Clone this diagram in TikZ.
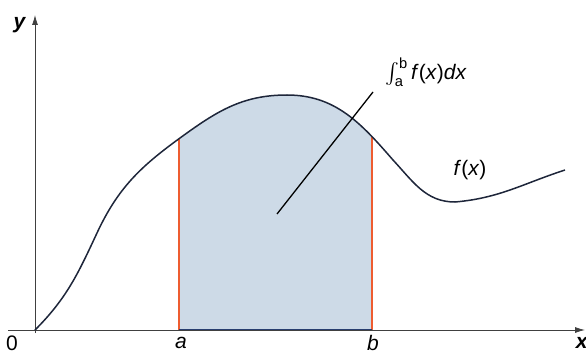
\documentclass[tikz,border=0pt]{standalone}
\usepackage{amsmath}
\usepackage{fontspec}
\setmainfont{Liberation Sans}
\usetikzlibrary{arrows.meta}

\definecolor{curvecol}{RGB}{30,38,58}
\definecolor{areacol}{RGB}{205,218,231}
\definecolor{edgecol}{RGB}{238,92,48}
\definecolor{basecol}{RGB}{40,62,112}

\begin{document}
\begin{tikzpicture}[x=1pt,y=1pt,font=\fontsize{21}{24}\selectfont,
  axis/.style={line width=0.8pt, draw=black!75, -{Latex[length=10pt,width=6pt]}},
  edge/.style={line width=1.3pt, draw=edgecol},
  leader/.style={line width=1.3pt, draw=black}]
  \useasboundingbox (-35,-24) rectangle (551,330);
  \def\fcurve{(0,0) to[out=45,in=245] (62,97) to[out=65,in=216] (145,192)
    to[out=36,in=180] (252,235) to[out=0,in=131] (358,170)
    to[out=-47,in=180] (420,128) to[out=5,in=198] (530,160)}

  % Points
  \coordinate (o) at (0,0);
  \coordinate (a0) at (144,0);
  \coordinate (b0) at (337,0);

  % Area under f between a and b
  \begin{scope}
    \clip \fcurve -- (530,0) -- cycle;
    \fill[areacol] (a0) rectangle (337,260);
    \draw[edge] (a0) -- ++(0,260);
    \draw[edge] (b0) -- ++(0,260);
  \end{scope}
  \draw[line width=1.6pt, basecol] (a0) -- (b0);

  % Axes
  \draw[axis] (-27,0) -- (550,0);
  \draw[axis] (0,-3) -- (0,315);

  % f(x)
  \draw[line width=1.5pt, curvecol] \fcurve;

  % Labels
  \node (ylab) at (-15,305) {\textbf{\textit{y}}};
  \node (xlab) at (547,-13) {\textbf{\textit{x}}};
  \node (zero) at (-23,-13) {0};
  \node (alab) at (146,-13) {\textit{a}};
  \node (blab) at (338,-13) {\textit{b}};
  \node (flab) at (435,160) {\textit{f}(\textit{x})};
  \node[anchor=west, inner sep=0pt] (intlab) at (350,258) {\(\int_{\text{a}}^{\text{b}}\)\,\textit{f}(\textit{x})\textit{dx}};

  % Leader to the integral
  \coordinate (leadin) at (242,116);
  \coordinate (leadout) at (338,238);
  \draw[leader] (leadin) -- (leadout);
\end{tikzpicture}
\end{document}
